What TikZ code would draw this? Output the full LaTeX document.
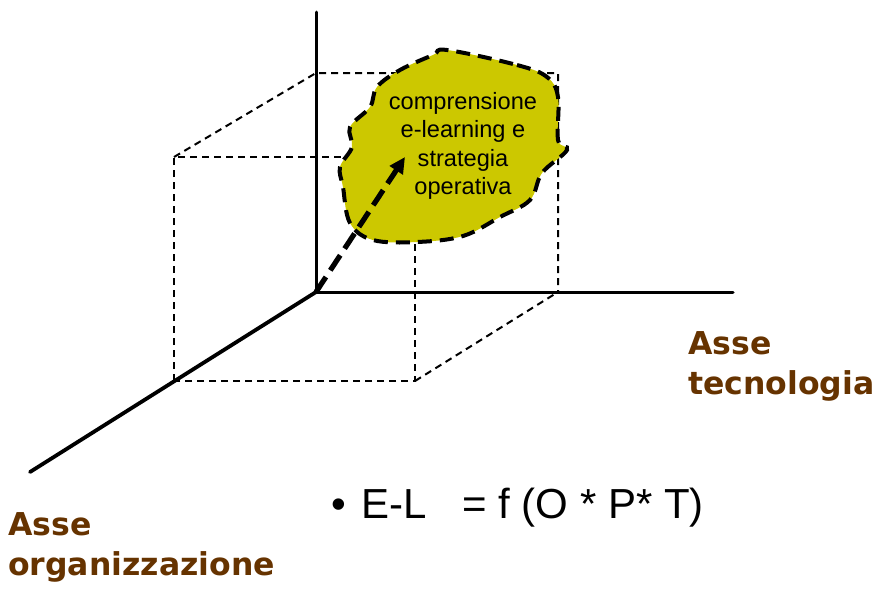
\documentclass[tikz,border=0pt]{standalone}
\usepackage{fontspec}
\setmainfont{Liberation Sans}
\newfontfamily\labfont{DejaVu Sans}
\usetikzlibrary{arrows.meta}
\definecolor{blobfill}{HTML}{CCC800}
\definecolor{brownlab}{HTML}{663300}
\tikzset{
  axis/.style={line width=3pt, line cap=round},
  boxedge/.style={line width=2pt, dash pattern=on 7pt off 5pt},
  blob/.style={fill=blobfill, draw=black, line width=4pt, dash pattern=on 14pt off 8pt},
  bigarrow/.style={line width=5.2pt, dash pattern=on 18pt off 8pt, -{Triangle[length=16pt,width=15pt]}},
  axlabel/.style={font=\labfont\bfseries\fontsize{31.5}{40}\selectfont, text=brownlab, align=left, inner sep=0pt, anchor=north west},
  blobtext/.style={font=\fontsize{23.6}{28.3}\selectfont, align=center, inner sep=0pt},
  formula/.style={font=\fontsize{42}{46}\selectfont, inner sep=0pt, anchor=base west}
}
\begin{document}
\begin{tikzpicture}[x=1pt,y=-1pt]
\useasboundingbox (0,0) rectangle (881,590);
% key points
\coordinate (O) at (316,292);
\coordinate (vtop) at (316,12);
\coordinate (hend) at (733,292);
\coordinate (dend) at (30,472);
% box corners
\coordinate (ftl) at (174,157);
\coordinate (ftr) at (415,157);
\coordinate (fbl) at (174,381);
\coordinate (fbr) at (415,381);
\coordinate (btl) at (316,73);
\coordinate (btr) at (558,73);
\coordinate (bbr) at (558,292);
% dashed box
\draw[boxedge] (fbl) -- (ftl) -- (ftr) -- (fbr) -- cycle;
\draw[boxedge] (ftl) -- (btl) -- (btr) -- (bbr);
\draw[boxedge] (fbr) -- (bbr);
% axes
\draw[axis] (vtop) -- (O) -- (hend);
\draw[axis, line width=3.8pt] (O) -- (dend);
% blob
\draw[blob] plot[smooth cycle, tension=0.6] coordinates {
 (447,50) (517,65) (547,77) (558,97) (558,140) (567,150) (542,173) (530,200)
 (500,217) (463,236) (417,242) (373,240) (350,223) (343,187) (340,167)
 (352,147) (350,127) (370,107) (377,87) (400,70) (433,55)};
\node[blobtext] (txt) at (463,146) {comprensione\\e-learning e\\strategia\\operativa};
% arrow
\coordinate (atip) at (405,157);
\draw[bigarrow] (O) -- (atip);
% labels
\node[axlabel] (lt) at (688,331) {Asse\\tecnologia};
\node[axlabel] (lo) at (8,512) {Asse\\organizzazione};
\node[formula] (bul) at (331,518) {•};
\node[formula] (el) at (361,518) {E-L};
\node[formula] (fo) at (462,518) {= f (O * P* T)};
\end{tikzpicture}
\end{document}
